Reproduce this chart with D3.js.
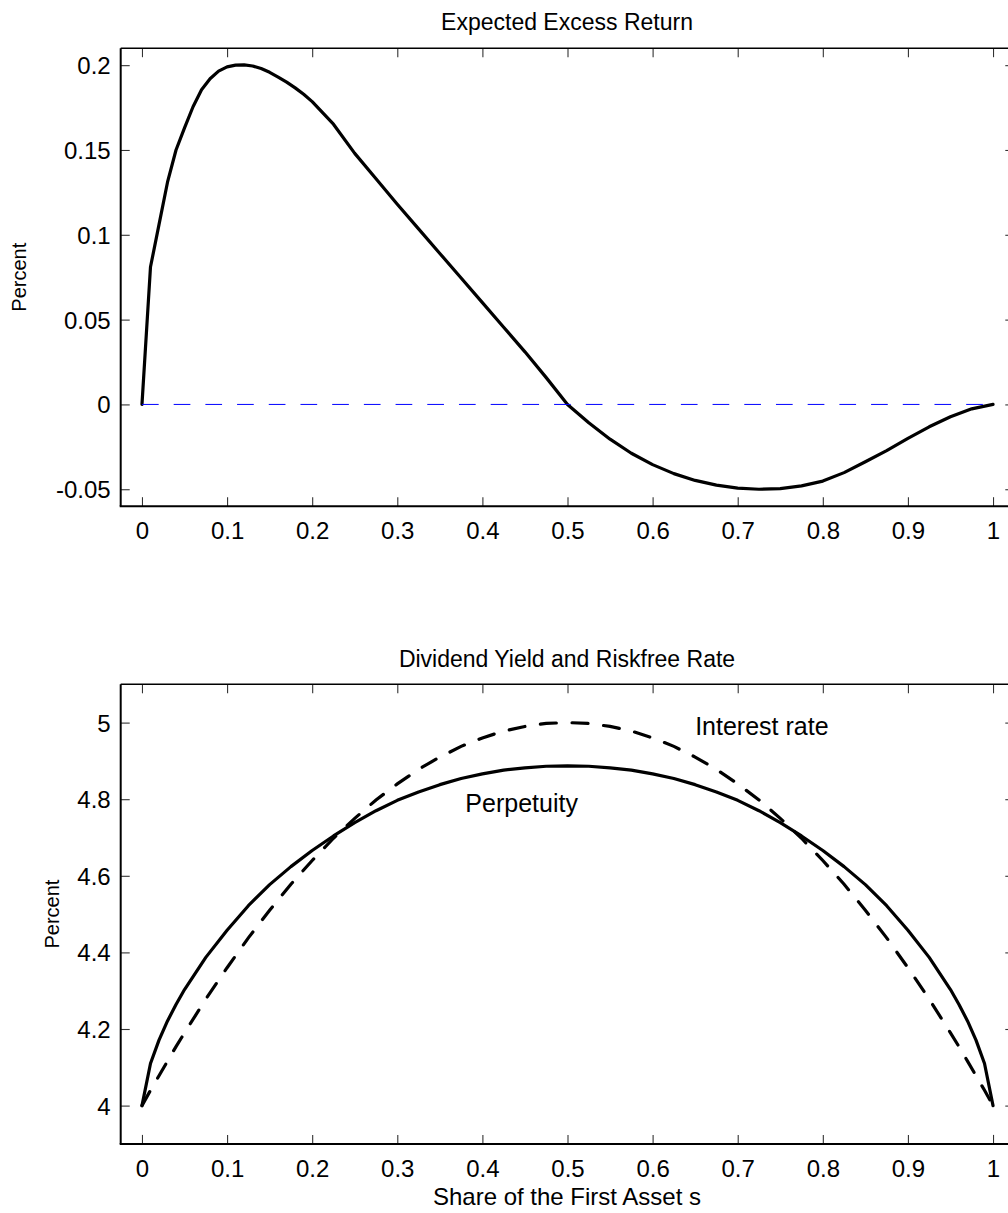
<!DOCTYPE html>
<html>
<head>
<meta charset="utf-8">
<script src="https://cdn.jsdelivr.net/npm/d3@7"></script>
<style>
  html, body { margin: 0; padding: 0; background: #fff; overflow: hidden; }
  svg { display: block; }
  text { font-family: "Liberation Sans", Arial, Helvetica, sans-serif; fill: #000; }
</style>
</head>
<body>
<script>
// ---------- data ----------
const sTop = [0,0.01,0.02,0.03,0.04,0.05,0.06,0.07,0.08,0.09,0.1,0.11,0.12,0.13,0.14,0.15,0.16,0.17,0.18,0.19,0.2,
  0.225,0.25,0.275,0.3,0.325,0.35,0.375,0.4,0.425,0.45,0.475,0.5,0.525,0.55,0.575,0.6,0.625,0.65,0.675,0.7,0.725,
  0.75,0.775,0.8,0.825,0.85,0.875,0.9,0.925,0.95,0.975,1];
const excessReturn = [0,0.081,0.106,0.131,0.150,0.163,0.1755,0.1855,0.192,0.1965,0.199,0.2,0.2002,0.1995,0.198,0.1958,
  0.193,0.19,0.1866,0.1828,0.1785,0.1652,0.148,0.133,0.118,0.1035,0.089,0.0745,0.060,0.0455,0.031,0.0158,0,
  -0.0108,-0.0205,-0.0288,-0.0355,-0.0408,-0.0448,-0.0476,-0.0493,-0.05,-0.0496,-0.048,-0.0452,-0.0402,-0.0338,
  -0.0272,-0.02,-0.0132,-0.0073,-0.0026,0];
const zeroLine = [0, 0];
const zeroLineS = [0, 1];

const sBottom = [0,0.01,0.02,0.03,0.04,0.05,0.075,0.1,0.125,0.15,0.175,0.2,0.225,0.25,0.275,0.3,0.325,0.35,0.375,0.4,
  0.425,0.45,0.475,0.5,0.525,0.55,0.575,0.6,0.625,0.65,0.675,0.7,0.725,0.75,0.775,0.8,0.825,0.85,0.875,0.9,0.925,
  0.95,0.96,0.97,0.98,0.99,1];
const perpetuity = [4.0,4.11,4.171,4.221,4.264,4.303,4.387,4.458,4.522,4.577,4.624,4.666,4.704,4.739,4.77,4.797,
  4.819,4.838,4.854,4.866,4.876,4.882,4.886,4.887,4.886,4.882,4.876,4.866,4.854,4.838,4.819,4.797,4.77,4.739,
  4.704,4.666,4.624,4.577,4.522,4.458,4.387,4.303,4.264,4.221,4.171,4.11,4.0];
const interestRate = [4.0,4.04,4.078,4.116,4.154,4.19,4.278,4.36,4.438,4.51,4.578,4.64,4.698,4.75,4.798,4.84,
  4.878,4.91,4.938,4.96,4.978,4.99,4.998,5.0,4.998,4.99,4.978,4.96,4.938,4.91,4.878,4.84,4.798,4.75,4.698,4.64,
  4.578,4.51,4.438,4.36,4.278,4.19,4.154,4.116,4.078,4.04,4.0];

const xTicks = [0,0.1,0.2,0.3,0.4,0.5,0.6,0.7,0.8,0.9,1];
const xTickLabels = ["0","0.1","0.2","0.3","0.4","0.5","0.6","0.7","0.8","0.9","1"];
const topYTicks = [-0.05,0,0.05,0.1,0.15,0.2];
const topYTickLabels = ["-0.05","0","0.05","0.1","0.15","0.2"];
const botYTicks = [4,4.2,4.4,4.6,4.8,5];
const botYTickLabels = ["4","4.2","4.4","4.6","4.8","5"];

const titles = ["Expected Excess Return", "Dividend Yield and Riskfree Rate"];
const yLabel = "Percent";
const xLabel = "Share of the First Asset s";
const annotations = [
  {text: "Interest rate", s: 0.65, v: 4.99},
  {text: "Perpetuity", s: 0.38, v: 4.79}
];

// ---------- layout ----------
const W = 1008, H = 1213;
const svg = d3.select("body").append("svg").attr("width", W).attr("height", H);

const xDom = [-0.025, 1.025];
const xRange = [120.7, 1014.3];
const TICK = 9;
const FS = 24;

function panel(cfg) {
  const x = d3.scaleLinear().domain(xDom).range(xRange);
  const y = d3.scaleLinear().domain(cfg.yDom).range(cfg.yRange);
  const g = svg.append("g");
  const [x0, x1] = xRange;
  const [yb, yt] = cfg.yRange;

  const fmtX = (d, i) => xTickLabels[i];
  const bottomAxis = d3.axisBottom(x).tickValues(xTicks).tickSize(-TICK).tickPadding(0).tickFormat(fmtX);
  const topAxis = d3.axisTop(x).tickValues(xTicks).tickSize(-TICK).tickFormat("");
  const leftAxis = d3.axisLeft(y).tickValues(cfg.yTicks).tickSize(-TICK).tickPadding(0)
      .tickFormat((d, i) => cfg.yTickLabels[i]);
  const rightAxis = d3.axisRight(y).tickValues(cfg.yTicks).tickSize(-TICK).tickFormat("");

  const gb = g.append("g").attr("transform", `translate(0,${yb})`).call(bottomAxis);
  const gt = g.append("g").attr("transform", `translate(0,${yt})`).call(topAxis);
  const gl = g.append("g").attr("transform", `translate(${x0},0)`).call(leftAxis);
  const gr = g.append("g").attr("transform", `translate(${x1},0)`).call(rightAxis);
  [gb, gt, gl, gr].forEach(a => {
    a.select(".domain").remove();
    a.selectAll(".tick line").attr("stroke", "#333").attr("stroke-width", 1.1);
    a.selectAll(".tick text").style("font-family", '"Liberation Sans", Arial, sans-serif')
      .attr("font-size", FS).attr("fill", "#000");
  });
  gb.selectAll(".tick text").attr("y", 33).attr("dy", 0);
  gl.selectAll(".tick text").attr("x", -10).attr("dy", "0.35em");

  g.append("line").attr("x1", x0).attr("x2", x0).attr("y1", yt).attr("y2", yb)
    .attr("stroke", "#000").attr("stroke-width", 2);
  g.append("line").attr("x1", x0 - 1).attr("x2", x1).attr("y1", yb).attr("y2", yb)
    .attr("stroke", "#000").attr("stroke-width", 2);
  g.append("line").attr("x1", x0).attr("x2", x1).attr("y1", yt).attr("y2", yt)
    .attr("stroke", "#000").attr("stroke-width", 1.4);
  g.append("line").attr("x1", x1).attr("x2", x1).attr("y1", yt).attr("y2", yb)
    .attr("stroke", "#000").attr("stroke-width", 1.4);

  g.append("text").attr("x", (x0 + x1) / 2 - 0.5).attr("y", yt + cfg.titleDy)
    .attr("text-anchor", "middle").attr("font-size", cfg.titleFS).text(cfg.title);
  g.append("text").attr("transform", `translate(${cfg.yLabelX},${(yt + yb) / 2}) rotate(-90)`)
    .attr("text-anchor", "middle").attr("dy", "0.35em").attr("font-size", cfg.labelFS).text(yLabel);

  return {g, x, y};
}

// ---------- top panel ----------
const topP = panel({
  yDom: [-0.06, 0.21], yRange: [506.2, 48.2],
  yTicks: topYTicks, yTickLabels: topYTickLabels,
  title: titles[0], titleDy: -18, titleFS: 23, labelFS: 20, yLabelX: 19
});
const lineTop = d3.line().x((d, i) => topP.x(sTop[i])).y(d => topP.y(d));
topP.g.append("path").datum(excessReturn).attr("d", lineTop)
  .attr("fill", "none").attr("stroke", "#000").attr("stroke-width", 3.2)
  .attr("stroke-linejoin", "round").attr("stroke-linecap", "round");
const lineZero = d3.line().x((d, i) => topP.x(zeroLineS[i])).y(d => topP.y(d));
topP.g.append("path").datum(zeroLine).attr("d", lineZero)
  .attr("fill", "none").attr("stroke", "#0000ff").attr("stroke-width", 1)
  .attr("stroke-dasharray", "16.7,15");

// ---------- bottom panel ----------
const botP = panel({
  yDom: [3.9, 5.1], yRange: [1143.9, 684.3],
  yTicks: botYTicks, yTickLabels: botYTickLabels,
  title: titles[1], titleDy: -17, titleFS: 23, labelFS: 20, yLabelX: 52
});
const lineBot = vals => d3.line().x((d, i) => botP.x(sBottom[i])).y(d => botP.y(d))(vals);
botP.g.append("path").attr("d", lineBot(perpetuity))
  .attr("fill", "none").attr("stroke", "#000").attr("stroke-width", 3.2)
  .attr("stroke-linejoin", "round").attr("stroke-linecap", "round");
botP.g.append("path").attr("d", lineBot(interestRate))
  .attr("fill", "none").attr("stroke", "#000").attr("stroke-width", 3.2)
  .attr("stroke-dasharray", "16,15.7").attr("stroke-linecap", "round");

annotations.forEach(a => {
  botP.g.append("text").attr("x", botP.x(a.s)).attr("y", botP.y(a.v)).attr("dy", "0.35em")
    .attr("font-size", 25).text(a.text);
});

svg.append("text").attr("x", 567).attr("y", 1205).attr("text-anchor", "middle")
  .attr("font-size", 24).text(xLabel);
</script>
</body>
</html>
